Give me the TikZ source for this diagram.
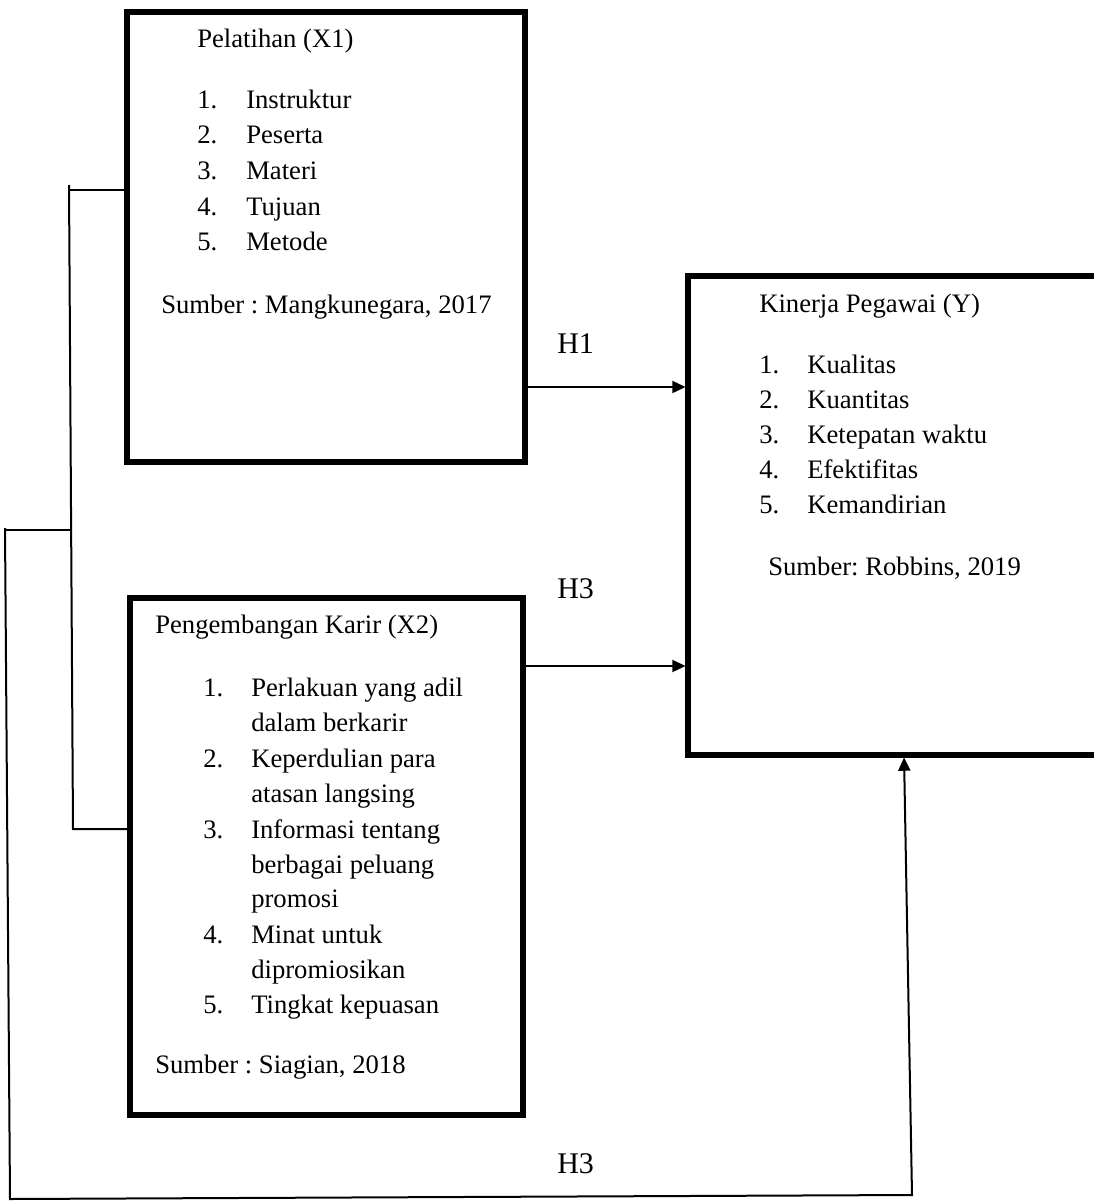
\documentclass[tikz,border=0pt]{standalone}
\usepackage{fontspec}
\setmainfont{Liberation Serif}
\usetikzlibrary{arrows.meta}
\frenchspacing
\begin{document}
\begin{tikzpicture}[x=0.75pt,y=-0.75pt,
  box/.style={draw,line width=3.8pt,rectangle,inner sep=0pt,outer sep=0pt},
  conn/.style={line width=1.5pt},
  arr/.style={conn,-{Triangle[length=10pt,width=9pt]},shorten >=1.8pt},
  txt/.style={anchor=base west,inner sep=0pt,font=\fontsize{20}{24}\selectfont},
  hl/.style={anchor=base west,inner sep=0pt,font=\fontsize{22.5}{26}\selectfont}]
\useasboundingbox (0,0) rectangle (1094,1202);
\clip (0,0) rectangle (1094,1202);
% boxes
\node[box,minimum width=298.5pt,minimum height=337.5pt] (x1) at (326,237) {};
\node[box,minimum width=294.75pt,minimum height=387.75pt] (x2) at (326.5,856.5) {};
\node[box,minimum width=316.5pt,minimum height=359.25pt] (y) at (899,515.5) {};
% X1 text
\node[txt] (x1t) at (197,48) {Pelatihan (X1)};
\node[txt] (x1n1) at (197,109) {1.};
\node[txt] (x1i1) at (246,109) {Instruktur};
\node[txt] (x1n2) at (197,144) {2.};
\node[txt] (x1i2) at (246,144) {Peserta};
\node[txt] (x1n3) at (197,180) {3.};
\node[txt] (x1i3) at (246,180) {Materi};
\node[txt] (x1n4) at (197,215) {4.};
\node[txt] (x1i4) at (246,215) {Tujuan};
\node[txt] (x1n5) at (197,250) {5.};
\node[txt] (x1i5) at (246,250) {Metode};
\node[txt] (x1s) at (161,313) {Sumber : Mangkunegara, 2017};
% X2 text
\node[txt] (x2t) at (155,633) {Pengembangan Karir (X2)};
\node[txt] (x2n1) at (203,696) {1.};
\node[txt] (x2i1a) at (251,696) {Perlakuan yang adil};
\node[txt] (x2i1b) at (251,731) {dalam berkarir};
\node[txt] (x2n2) at (203,767) {2.};
\node[txt] (x2i2a) at (251,767) {Keperdulian para};
\node[txt] (x2i2b) at (251,802) {atasan langsing};
\node[txt] (x2n3) at (203,838) {3.};
\node[txt] (x2i3a) at (251,838) {Informasi tentang};
\node[txt] (x2i3b) at (251,873) {berbagai peluang};
\node[txt] (x2i3c) at (251,907) {promosi};
\node[txt] (x2n4) at (203,943) {4.};
\node[txt] (x2i4a) at (251,943) {Minat untuk};
\node[txt] (x2i4b) at (251,978) {dipromiosikan};
\node[txt] (x2n5) at (203,1013) {5.};
\node[txt] (x2i5) at (251,1013) {Tingkat kepuasan};
\node[txt] (x2s) at (155,1073) {Sumber : Siagian, 2018};
% Y text
\node[txt] (yt) at (759,312) {Kinerja Pegawai (Y)};
\node[txt] (yn1) at (759,373) {1.};
\node[txt] (yi1) at (807,373) {Kualitas};
\node[txt] (yn2) at (759,408) {2.};
\node[txt] (yi2) at (807,408) {Kuantitas};
\node[txt] (yn3) at (759,443) {3.};
\node[txt] (yi3) at (807,443) {Ketepatan waktu};
\node[txt] (yn4) at (759,478) {4.};
\node[txt] (yi4) at (807,478) {Efektifitas};
\node[txt] (yn5) at (759,513) {5.};
\node[txt] (yi5) at (807,513) {Kemandirian};
\node[txt] (ys) at (768,575) {Sumber: Robbins, 2019};
% labels
\node[hl] (h1) at (557,353) {H1};
\node[hl] (h3a) at (557,598) {H3};
\node[hl] (h3b) at (557,1173) {H3};
% connectors
\draw[arr] (x1.east |- 0,387) -- (y.west |- 0,387);
\draw[arr] (x2.east |- 0,666) -- (y.west |- 0,666);
\coordinate (c1) at (69,185);
\coordinate (c2) at (73,829);
\coordinate (c3) at (72,530);
\coordinate (c4) at (6,530);
\coordinate (c5) at (10,1199);
\coordinate (c6) at (912,1195);
\draw[conn] (x1.west |- 0,190) -- (69,190);
\draw[conn] (c1) -- (c2) -- (x2.west |- c2);
\draw[conn] (c3) -- (c4);
\draw[arr] (5,528) -- (c5) -- (c6) -- (904,0 |- y.south);
\end{tikzpicture}
\end{document}
